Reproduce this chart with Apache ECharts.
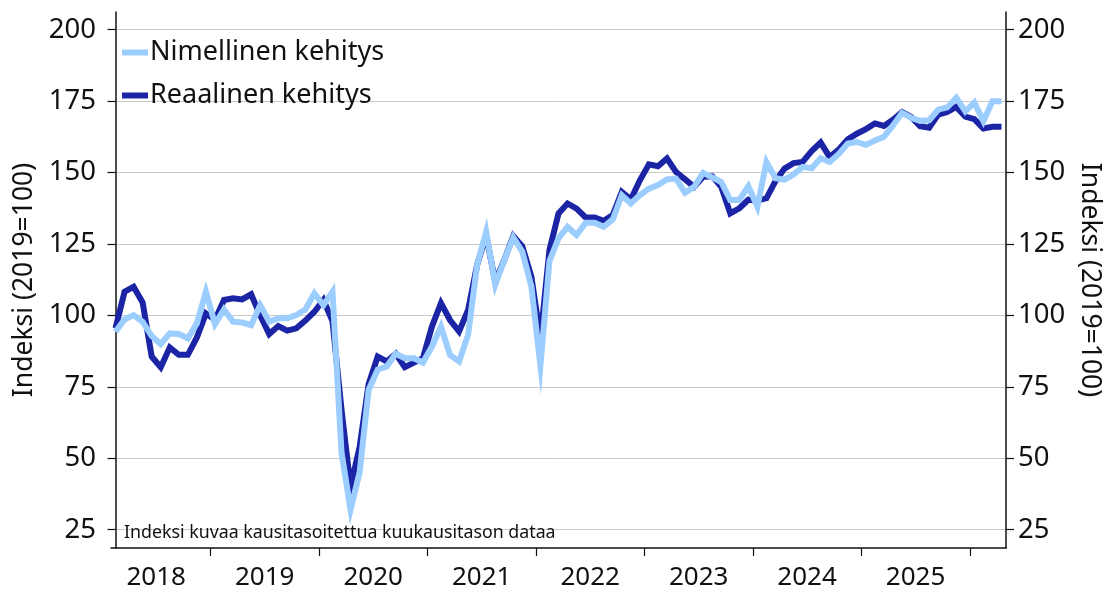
<!DOCTYPE html>
<html><head><meta charset="utf-8">
<script src="https://cdn.jsdelivr.net/npm/echarts@6/dist/echarts.min.js"></script>
<style>html,body{margin:0;padding:0;background:#fff}#c{width:1107px;height:590px}</style>
</head><body><div id="c"></div>
<script>
// Monthly data, February 2018 ... April 2026 (index 0 = 2018-02)
const firstYear = 2018, firstMonth = 2;
const yearLabels = ['2018','2019','2020','2021','2022','2023','2024','2025'];
const yTicks = [25, 50, 75, 100, 125, 150, 175, 200];
const seriesNames = ['Nimellinen kehitys', 'Reaalinen kehitys'];
const axisTitle = 'Indeksi (2019=100)';
const note = 'Indeksi kuvaa kausitasoitettua kuukausitason dataa';

const nimellinen = [
  94.3, 98.6, 100.1, 97.8, 92.8, 89.9, 93.7, 93.5, 92.0, 97.2, 108.3,
  97.0, 102.1, 97.8, 97.5, 96.6, 103.6, 97.8, 99.0, 99.0, 100.1, 102.1, 107.7,
  103.6, 108.3, 52, 32, 45, 74, 81, 82.1, 86.6, 85, 85, 83.5,
  89.1, 96.1, 86.2, 83.9, 93.2, 117.7, 129.3, 110.7, 119.4, 127.3, 122.3, 110.1,
  82.5, 119, 127, 131, 128.1, 132.4, 132.4, 131, 133.6, 142.1, 139.2, 142.1,
  144.4, 145.6, 147.6, 147.9, 142.9, 145, 149.9, 148.3, 146.7, 140.4, 140.4, 145.2,
  138, 153.7, 148, 147.5, 149.3, 152, 151.5, 155, 153.7, 156.5, 160.2, 160.7,
  159.7, 161.2, 162.5, 166.5, 170.9, 169.2, 168.1, 168.3, 172, 172.8, 176.2, 171.4,
  174.5, 168, 175, 175
];
const reaalinen = [
  95.5, 108.3, 110.0, 104.5, 85.6, 81.9, 88.8, 86.2, 86.2, 92.3, 100.7,
  98.4, 105.4, 106.0, 105.6, 107.4, 100.1, 93.5, 96.3, 94.7, 95.5, 98.2, 101.3,
  105.4, 98, 67, 40, 54, 76, 85.6, 83.9, 86.6, 81.9, 83.5, 85,
  96.1, 104.3, 98.4, 94.4, 101.9, 117.7, 128, 111.8, 119.4, 127.8, 124.1, 113.6,
  92, 122.9, 135.7, 139.2, 137.4, 134.3, 134.3, 133.1, 135.1, 143.2, 140.6, 147.3,
  152.9, 152.2, 154.9, 150.2, 147.6, 145, 148.5, 148.7, 145, 135.7, 137.5, 140.5,
  140.2, 141, 147, 151.4, 153.3, 153.7, 157.5, 160.5, 155.4, 158.1, 161.6, 163.6,
  165.2, 167.2, 166.3, 168.5, 171.2, 169.5, 166.2, 165.7, 170.3, 171.2, 173, 169.6,
  168.7, 165.4, 166, 166
];

// positions on the month-index axis
const janIndex = y => (y - firstYear) * 12 + (1 - firstMonth);
const yearBoundaries = yearLabels.map(y => janIndex(+y + 1) - 0.5);
const yearCenters = yearLabels.map(y => janIndex(+y) - 0.5 + 6);

const FONT = 'Noto Sans';
const chart = echarts.init(document.getElementById('c'), null, {renderer: 'canvas'});
const yAxisCommon = {
  type: 'value', min: 18.6, max: 206.2,
  name: axisTitle, nameLocation: 'middle',
  nameTextStyle: {fontFamily: FONT, fontSize: 26.5, color: '#111'},
  axisLine: {show: true, lineStyle: {color: '#111', width: 1.5}},
  axisTick: {show: true, length: 8, customValues: yTicks, lineStyle: {color: '#111', width: 1.2}},
  axisLabel: {customValues: yTicks, fontFamily: FONT, fontSize: 27.5, color: '#111'}
};
chart.setOption({
  animation: false,
  textStyle: {fontFamily: FONT},
  grid: {left: 111, right: 101, top: 12, bottom: 42, containLabel: false, outerBoundsMode: 'none'},
  title: {text: note, left: 119, top: 519, textStyle: {fontFamily: FONT, fontSize: 17.8, fontWeight: 'normal', color: '#111'}},
  legend: {
    data: seriesNames, orient: 'vertical', left: 117, top: 34, itemGap: 16, itemGap2: 0,
    icon: 'rect', itemWidth: 26, itemHeight: 6,
    textStyle: {fontFamily: FONT, fontSize: 27, color: '#111', padding: [0, 0, 0, -3]}
  },
  xAxis: {
    type: 'value', min: -0.5, max: nimellinen.length - 0.5,
    axisLine: {show: true, onZero: false, lineStyle: {color: '#111', width: 1.5}},
    axisTick: {show: true, length: 8, customValues: yearBoundaries, lineStyle: {color: '#111', width: 1.2}},
    axisLabel: {
      customValues: yearCenters, fontFamily: FONT, fontSize: 26, color: '#111', margin: 17,
      formatter: v => yearLabels[Math.round((v - yearCenters[0]) / 12)]
    },
    splitLine: {show: false}
  },
  yAxis: [
    Object.assign({}, yAxisCommon, {
      position: 'left', nameRotate: 90, nameGap: 70,
      axisLabel: Object.assign({}, yAxisCommon.axisLabel, {margin: 15}),
      splitLine: {show: true, lineStyle: {color: '#c8c8c8', width: 1}}
    }),
    Object.assign({}, yAxisCommon, {
      position: 'right', nameRotate: -90, nameGap: 70,
      axisLabel: Object.assign({}, yAxisCommon.axisLabel, {margin: 12}),
      splitLine: {show: false}
    })
  ],
  series: [
    {
      name: seriesNames[1], type: 'line', data: reaalinen.map((v, i) => [i, v]),
      showSymbol: false, symbol: 'none', color: '#1b24a4',
      lineStyle: {width: 6, color: '#1b24a4', join: 'miter'}, z: 2
    },
    {
      name: seriesNames[0], type: 'line', data: nimellinen.map((v, i) => [i, v]),
      showSymbol: false, symbol: 'none', color: '#9ccdff',
      lineStyle: {width: 6, color: '#9ccdff', join: 'miter'}, z: 3
    }
  ]
});
</script></body></html>
